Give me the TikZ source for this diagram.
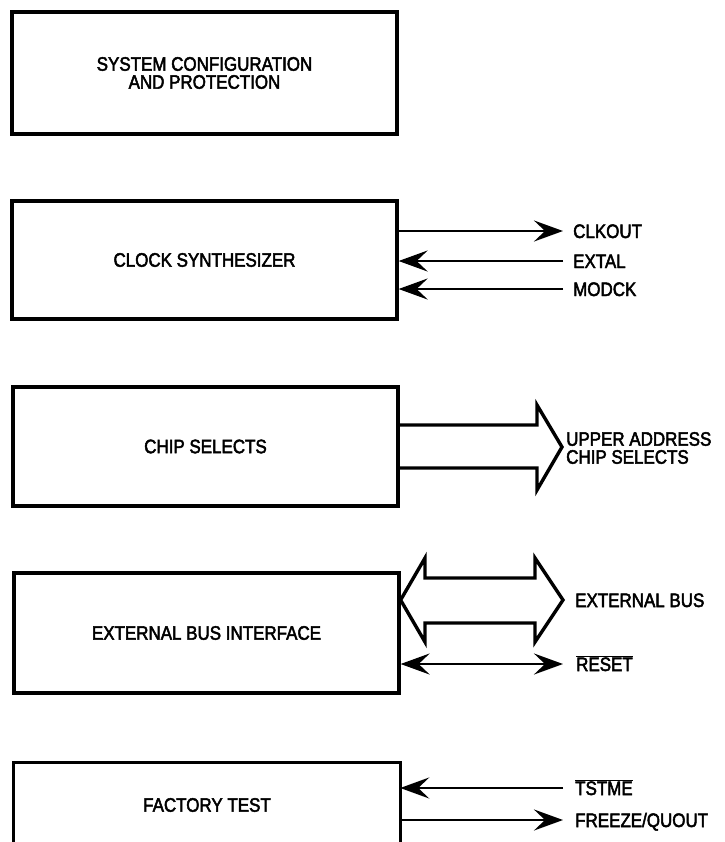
\documentclass[tikz,border=0pt]{standalone}
\usepackage{fontspec}
\setmainfont{Liberation Sans}[FakeStretch=0.87,FakeBold=2.5]
\usetikzlibrary{arrows.meta,calc}
\begin{document}
\begin{tikzpicture}[x=1bp,y=-1bp,
  every node/.style={font=\fontsize{19.5bp}{18bp}\selectfont},
  blk/.style={draw,line width=3.2bp,minimum width=385bp,align=center,inner sep=0pt},
  lbl/.style={anchor=base west,inner sep=0pt,align=left},
  sig/.style={line width=2.8bp,-{Stealth[length=29bp,width=21bp,inset=11bp]}},
  sigb/.style={line width=2.8bp,{Stealth[length=29bp,width=21bp,inset=11bp]}-{Stealth[length=29bp,width=21bp,inset=11bp]}},
  bus/.style={line width=3.4bp,line join=miter}]
\useasboundingbox (0,0) rectangle (725,842);
% blocks
\node[blk,minimum height=122bp] (sys) at (204.5,73) {SYSTEM CONFIGURATION\\AND PROTECTION};
\node[blk,minimum height=118bp] (clk) at (204.5,260) {CLOCK SYNTHESIZER};
\node[blk,minimum height=119bp] (cs) at (205.5,446.5) {CHIP SELECTS};
\node[blk,minimum height=120bp] (ebi) at (206.5,633) {EXTERNAL BUS INTERFACE};
\node[minimum width=386bp,minimum height=84bp,inner sep=0pt] (ft) at (207,805) {FACTORY TEST};
\draw[line width=3.2bp] (ft.south west) -- (ft.north west) -- (ft.north east) -- (ft.south east);
% labels
\node[lbl] (clkout) at (573,238) {CLKOUT};
\node[lbl] (extal) at (573,268) {EXTAL};
\node[lbl] (modck) at (573,296) {MODCK};
\node[lbl,anchor=west] (uacs) at (566,448) {UPPER ADDRESS\\CHIP SELECTS};
\node[lbl] (extbus) at (575,607) {EXTERNAL BUS};
\node[lbl] (reset) at (576,671) {$\overline{\mbox{RESET}}$};
\node[lbl] (tstme) at (575,795) {$\overline{\mbox{TSTME}}$};
\node[lbl] (frz) at (575,827) {FREEZE/QUOUT};
% clock signals
\coordinate (tip1) at (563,231);
\coordinate (tip2) at (563,261);
\coordinate (tip3) at (563,289);
\draw[sig] (clk.east |- tip1) -- (tip1);
\draw[sig] (tip2) -- (clk.east |- tip2);
\draw[sig] (tip3) -- (clk.east |- tip3);
% chip select bus arrow
\draw[bus] (cs.east |- 0,425) -- (537,425) -- (537,405) -- (562,447) -- (537,490) -- (537,468) -- (cs.east |- 0,468);
% external bus double arrow
\draw[bus] (425,578) -- (535,578) -- (535,558) -- (563,600) -- (535,642) -- (535,623) -- (425,623) -- (425,642) -- (ebi.east |- 0,600) -- (425,558) -- cycle;
\coordinate (tip4) at (563,664);
\draw[sigb] (ebi.east |- tip4) -- (tip4);
% factory test signals
\coordinate (tip5) at (563,788);
\coordinate (tip6) at (563,820);
\draw[sig] (tip5) -- (ft.east |- tip5);
\draw[sig] (ft.east |- tip6) -- (tip6);
\end{tikzpicture}
\end{document}
